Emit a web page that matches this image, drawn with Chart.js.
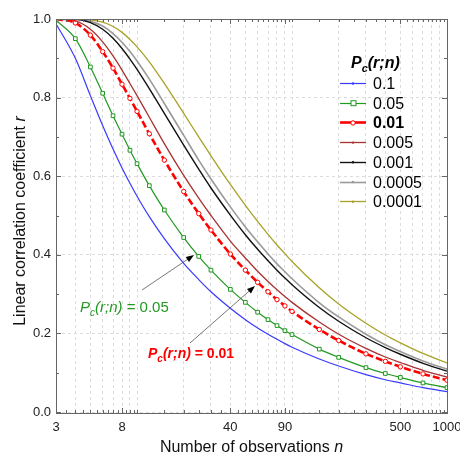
<!DOCTYPE html>
<html>
<head>
<meta charset="utf-8">
<script src="https://cdn.jsdelivr.net/npm/chart.js@4.4.1/dist/chart.umd.min.js"></script>
<style>
  html, body { margin: 0; padding: 0; background: #fff; overflow: hidden; }
</style>
</head>
<body>
<canvas id="myChart" width="460" height="456"></canvas>
<script>
// number of observations n
const nObs = [3, 4, 5, 6, 7, 8, 9, 10, 12, 15, 20, 25, 30, 40, 50, 60, 70, 80, 90, 100, 150, 200, 300, 400, 500, 700, 1000];

// critical r for each probability level
const r_p0_1    = [0.988, 0.900, 0.805, 0.729, 0.669, 0.621, 0.582, 0.549, 0.497, 0.441, 0.378, 0.337, 0.306, 0.264, 0.235, 0.214, 0.198, 0.185, 0.174, 0.165, 0.135, 0.117, 0.095, 0.082, 0.074, 0.062, 0.052];
const r_p0_05   = [0.997, 0.950, 0.878, 0.811, 0.754, 0.707, 0.666, 0.632, 0.576, 0.514, 0.444, 0.396, 0.361, 0.312, 0.279, 0.254, 0.235, 0.220, 0.207, 0.197, 0.160, 0.139, 0.113, 0.098, 0.088, 0.074, 0.062];
const r_p0_01   = [1.000, 0.990, 0.959, 0.917, 0.875, 0.834, 0.798, 0.765, 0.708, 0.641, 0.561, 0.505, 0.463, 0.402, 0.361, 0.330, 0.306, 0.286, 0.270, 0.256, 0.210, 0.182, 0.148, 0.129, 0.115, 0.097, 0.081];
const r_p0_005  = [1.000, 0.995, 0.974, 0.942, 0.906, 0.870, 0.836, 0.805, 0.750, 0.683, 0.602, 0.544, 0.500, 0.435, 0.392, 0.358, 0.332, 0.311, 0.294, 0.279, 0.229, 0.198, 0.162, 0.140, 0.126, 0.106, 0.089];
const r_p0_001  = [1.000, 0.999, 0.991, 0.974, 0.951, 0.925, 0.898, 0.872, 0.823, 0.760, 0.679, 0.618, 0.570, 0.501, 0.451, 0.414, 0.385, 0.361, 0.341, 0.324, 0.266, 0.231, 0.189, 0.164, 0.147, 0.124, 0.104];
const r_p0_0005 = [1.000, 1.000, 0.994, 0.982, 0.963, 0.941, 0.917, 0.893, 0.847, 0.785, 0.704, 0.641, 0.593, 0.522, 0.471, 0.433, 0.402, 0.377, 0.357, 0.339, 0.278, 0.242, 0.198, 0.171, 0.154, 0.130, 0.109];
const r_p0_0001 = [1.000, 1.000, 0.998, 0.992, 0.981, 0.966, 0.948, 0.929, 0.891, 0.836, 0.760, 0.700, 0.652, 0.579, 0.526, 0.485, 0.452, 0.425, 0.403, 0.383, 0.316, 0.275, 0.226, 0.196, 0.176, 0.149, 0.125];

const seriesLabels = ['0.1', '0.05', '0.01', '0.005', '0.001', '0.0005', '0.0001'];
const seriesValues = [r_p0_1, r_p0_05, r_p0_01, r_p0_005, r_p0_001, r_p0_0005, r_p0_0001];

// axis ticks
const xTickLabels = [3, 8, 40, 90, 500, 1000];
const yTickLabels = [0, 0.2, 0.4, 0.6, 0.8, 1.0];

const FONT = '"Liberation Sans", Arial, Helvetica, sans-serif';

// line styles per series
const styles = [
  { color: '#3a3aff', width: 1.2 },
  { color: '#229922', width: 1.2, point: 'rect', radius: 2.6 },
  { color: '#ff0000', width: 2.6, dash: [7, 3], point: 'circle', radius: 2.2 },
  { color: '#a83232', width: 1.3 },
  { color: '#111111', width: 1.4 },
  { color: '#9a9a9a', width: 1.6 },
  { color: '#a8a228', width: 1.3 }
];

// log grid: 3..10, 20..100, 200..1000
const xGrid = [];
[1, 10, 100].forEach(d => {
  for (let k = 1; k <= 9; k++) {
    const v = k * d;
    if (v >= 3 && v <= 1000) xGrid.push(v);
  }
});
xGrid.push(1000);

// draws a list of text pieces with different fonts one after another
function textRuns(ctx, x, y, runs, align) {
  let total = 0;
  runs.forEach(r => { ctx.font = r.font; total += ctx.measureText(r.t).width; });
  if (align === 'center') x -= total / 2;
  runs.forEach(r => {
    ctx.font = r.font;
    ctx.fillText(r.t, x, y + (r.dy || 0));
    x += ctx.measureText(r.t).width;
  });
}

function arrow(ctx, x1, y1, x2, y2) {
  const a = Math.atan2(y2 - y1, x2 - x1);
  ctx.save();
  ctx.strokeStyle = '#555';
  ctx.lineWidth = 0.8;
  ctx.beginPath();
  ctx.moveTo(x1, y1);
  ctx.lineTo(x2 - 5 * Math.cos(a), y2 - 5 * Math.sin(a));
  ctx.stroke();
  ctx.fillStyle = '#000';
  ctx.beginPath();
  ctx.moveTo(x2, y2);
  ctx.lineTo(x2 - 8 * Math.cos(a) + 3 * Math.sin(a), y2 - 8 * Math.sin(a) - 3 * Math.cos(a));
  ctx.lineTo(x2 - 8 * Math.cos(a) - 3 * Math.sin(a), y2 - 8 * Math.sin(a) + 3 * Math.cos(a));
  ctx.closePath();
  ctx.fill();
  ctx.restore();
}

const decorations = {
  id: 'decorations',
  afterDatasetsDraw(chart) {
    const ctx = chart.ctx;
    const { left, right, top, bottom } = chart.chartArea;
    const xs = chart.scales.x, ys = chart.scales.y;
    ctx.save();

    // frame
    ctx.strokeStyle = '#666';
    ctx.lineWidth = 1;
    ctx.strokeRect(Math.round(left) + 0.5, Math.round(top) + 0.5, Math.round(right - left), Math.round(bottom - top));

    // inside ticks
    ctx.beginPath();
    for (let v = 0; v <= 1.0001; v += 0.1) {
      const y = Math.round(ys.getPixelForValue(v)) + 0.5;
      const len = Math.round(v * 10) % 2 === 0 ? 5 : 3;
      ctx.moveTo(left, y); ctx.lineTo(left + len, y);
      ctx.moveTo(right, y); ctx.lineTo(right - len, y);
    }
    const xt = [];
    for (let i = 0; i < xGrid.length - 1; i++) {
      xt.push(xGrid[i], (xGrid[i] + xGrid[i + 1]) / 2);
    }
    xt.forEach(v => {
      const x = Math.round(xs.getPixelForValue(v)) + 0.5;
      const len = xTickLabels.includes(v) ? 5 : 3;
      ctx.moveTo(x, bottom); ctx.lineTo(x, bottom - len);
      ctx.moveTo(x, top); ctx.lineTo(x, top + len);
    });
    ctx.stroke();

    // legend
    const lx = 340, tx = 373;
    ctx.fillStyle = '#000';
    ctx.textBaseline = 'alphabetic';
    textRuns(ctx, 351, 68, [
      { t: 'P', font: `italic bold 16px ${FONT}` },
      { t: 'c', font: `italic bold 11px ${FONT}`, dy: 4 },
      { t: '(r;n)', font: `italic bold 16px ${FONT}` }
    ]);
    seriesLabels.forEach((lab, i) => {
      const y = 83 + i * 19.7;
      const s = styles[i];
      ctx.strokeStyle = s.color;
      ctx.lineWidth = s.width;
      ctx.beginPath();
      ctx.moveTo(lx, Math.round(y) + 0.5); ctx.lineTo(lx + 26, Math.round(y) + 0.5);
      ctx.stroke();
      ctx.lineWidth = 1;
      ctx.fillStyle = '#fff';
      if (s.point === 'rect') {
        ctx.fillRect(lx + 11, y - 2, 5, 5); ctx.strokeRect(lx + 11, y - 2, 5, 5);
      } else if (s.point === 'circle') {
        ctx.beginPath(); ctx.arc(lx + 13, y + 0.5, 2.2, 0, Math.PI * 2); ctx.fill(); ctx.stroke();
      } else {
        ctx.fillStyle = s.color;
        ctx.beginPath(); ctx.arc(lx + 13, y + 0.5, 1.2, 0, Math.PI * 2); ctx.fill();
      }
      ctx.fillStyle = '#000';
      ctx.font = (lab === '0.01' ? 'bold ' : '') + `16px ${FONT}`;
      ctx.fillText(lab, tx, y + 6);
    });

    // annotations
    ctx.fillStyle = '#229922';
    textRuns(ctx, 80, 312, [
      { t: 'P', font: `italic 15px ${FONT}` },
      { t: 'c', font: `italic 10px ${FONT}`, dy: 4 },
      { t: '(r;n)', font: `italic 15px ${FONT}` },
      { t: ' = 0.05', font: `15px ${FONT}` }
    ]);
    ctx.fillStyle = '#ff0000';
    textRuns(ctx, 148, 358, [
      { t: 'P', font: `italic bold 14px ${FONT}` },
      { t: 'c', font: `italic bold 10px ${FONT}`, dy: 4 },
      { t: '(r;n)', font: `italic bold 14px ${FONT}` },
      { t: ' = 0.01', font: `bold 14px ${FONT}` }
    ]);
    arrow(ctx, 142, 290, 194, 255);
    arrow(ctx, 190, 343, 255, 286);

    // axis titles
    ctx.fillStyle = '#111';
    textRuns(ctx, (left + right) / 2, 451.5, [
      { t: 'Number of observations ', font: `16px ${FONT}` },
      { t: 'n', font: `italic 16px ${FONT}` }
    ], 'center');
    ctx.save();
    ctx.translate(25, 221);
    ctx.rotate(-Math.PI / 2);
    textRuns(ctx, 0, 0, [
      { t: 'Linear correlation coefficient ', font: `16px ${FONT}` },
      { t: 'r', font: `italic 16px ${FONT}` }
    ], 'center');
    ctx.restore();

    ctx.restore();
  }
};

const ctx = document.getElementById('myChart').getContext('2d');
const myChart = new Chart(ctx, {
  type: 'line',
  data: {
    datasets: seriesLabels.map((lab, i) => ({
      label: lab,
      data: nObs.map((n, j) => ({ x: n, y: seriesValues[i][j] })),
      borderColor: styles[i].color,
      borderWidth: styles[i].width,
      borderDash: styles[i].dash || [],
      pointStyle: styles[i].point || 'circle',
      pointRadius: styles[i].radius || 0,
      pointBackgroundColor: '#fff',
      pointBorderColor: styles[i].color,
      pointBorderWidth: 1,
      cubicInterpolationMode: 'monotone',
      fill: false
    }))
  },
  options: {
    responsive: false,
    animation: false,
    devicePixelRatio: 1,
    layout: { padding: { top: 19, right: 13, bottom: 0, left: 0 } },
    plugins: { legend: { display: false }, tooltip: { enabled: false } },
    scales: {
      x: {
        type: 'logarithmic',
        min: 3,
        max: 1000,
        afterBuildTicks: s => { s.ticks = xGrid.map(v => ({ value: v })); },
        afterFit: s => { s.height = 43; s.paddingLeft = 0; s.paddingRight = 0; },
        grid: { color: '#dcdcdc', lineWidth: 1, drawTicks: false },
        border: { display: false, dash: [3, 3] },
        ticks: {
          autoSkip: false,
          maxRotation: 0,
          padding: 7,
          color: '#222',
          font: { family: FONT, size: 13 },
          callback: v => xTickLabels.includes(v) ? String(v) : ''
        }
      },
      y: {
        min: -0.0025,
        max: 1.0,
        afterBuildTicks: s => { s.ticks = yTickLabels.map(v => ({ value: v })); },
        afterFit: s => { s.width = 56; },
        grid: { color: '#dcdcdc', lineWidth: 1, drawTicks: false },
        border: { display: false, dash: [3, 3] },
        ticks: {
          padding: 5,
          color: '#222',
          font: { family: FONT, size: 13 },
          callback: v => v.toFixed(1)
        }
      }
    }
  },
  plugins: [decorations]
});
</script>
</body>
</html>
